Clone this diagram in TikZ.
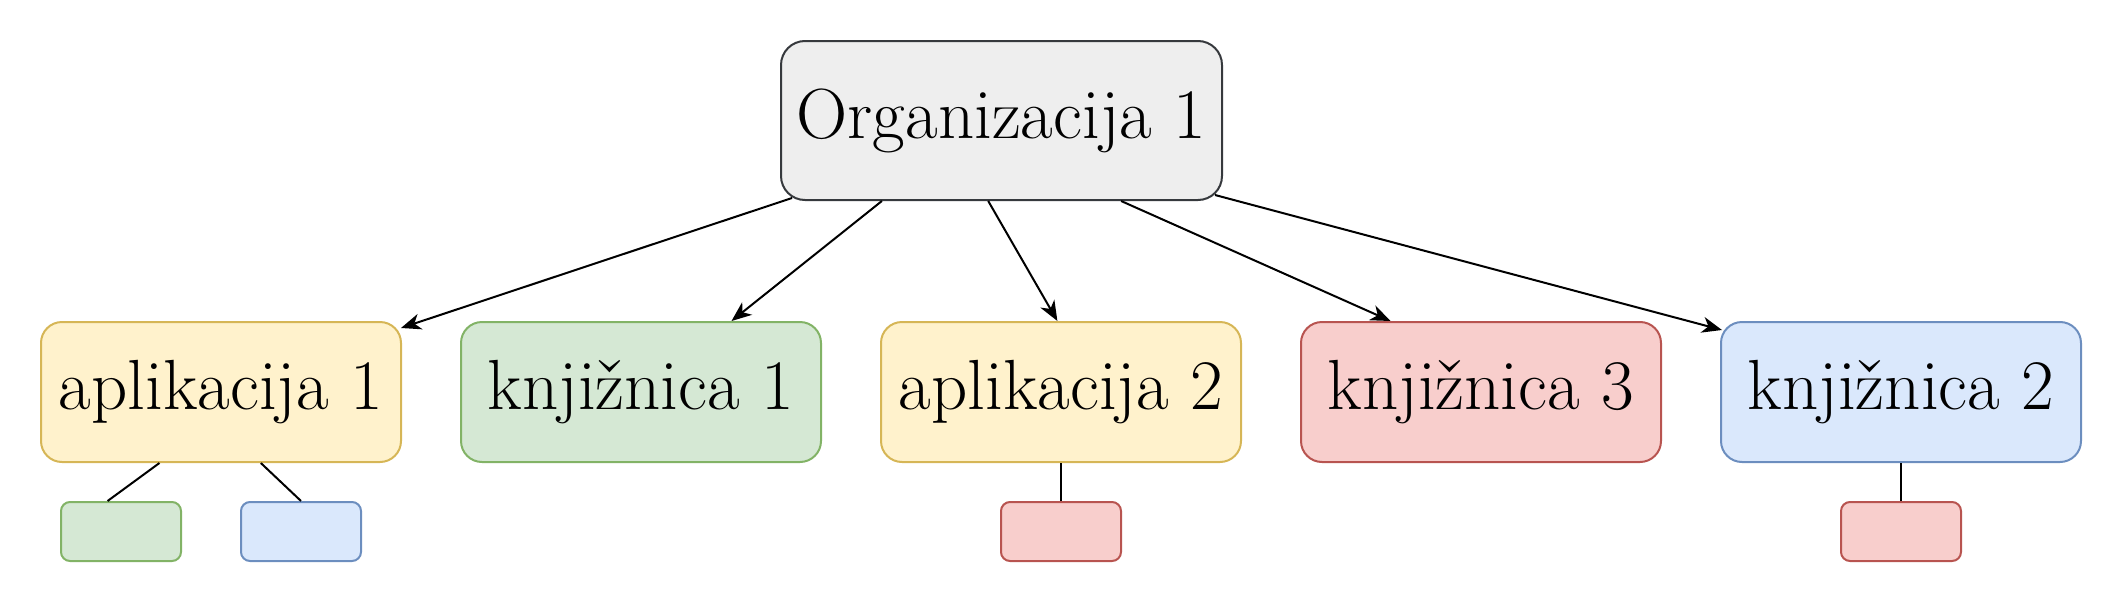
\documentclass[tikz,border=0pt]{standalone}
\usepackage{fontspec}
\usepackage{tikz}
\usetikzlibrary{shapes,arrows.meta,positioning,calc}
\usepackage{xcolor}

\definecolor{grayfill}{HTML}{EEEEEE}
\definecolor{graydraw}{HTML}{36393D}
\definecolor{yellowfill}{HTML}{FFF2CC}
\definecolor{yellowdraw}{HTML}{D6B656}
\definecolor{greenfill}{HTML}{D5E8D4}
\definecolor{greendraw}{HTML}{82B366}
\definecolor{redfill}{HTML}{F8CECC}
\definecolor{reddraw}{HTML}{B85450}
\definecolor{bluefill}{HTML}{DAE8FC}
\definecolor{bluedraw}{HTML}{6C8EBF}

\begin{document}
\begin{tikzpicture}[x=0.5pt, y=0.5pt, node distance=29pt]
    \tikzstyle{box} = [rectangle, draw, line width=1pt, text centered, font=\fontsize{35.5}{42}\selectfont]
    \tikzstyle{org} = [box, fill=grayfill, draw=graydraw, minimum width=220.5pt, minimum height=79.5pt, rounded corners=12pt]
    \tikzstyle{member} = [box, minimum width=180pt, minimum height=70pt, rounded corners=10.5pt]
    \tikzstyle{small} = [box, minimum width=60pt, minimum height=29.5pt, rounded corners=4.5pt]
    \tikzstyle{app} = [fill=yellowfill, draw=yellowdraw]
    \tikzstyle{libgreen} = [fill=greenfill, draw=greendraw]
    \tikzstyle{libred} = [fill=redfill, draw=reddraw]
    \tikzstyle{libblue} = [fill=bluefill, draw=bluedraw]
    \tikzstyle{arr} = [line width=1pt, -{Stealth[length=10pt, width=8pt, inset=3pt]}]
    \tikzstyle{link} = [line width=1pt]

    \useasboundingbox (0,0) rectangle (2122,602);

    \node[org] (organizacija) at (1001.5,481.5) {Organizacija 1};

    % second row
    \node[member, app] (apl1) at (221,210) {aplikacija 1};
    \node[member, libgreen, right=of apl1] (knj1) {knjižnica 1};
    \node[member, app, right=of knj1] (apl2) {aplikacija 2};
    \node[member, libred, right=of apl2] (knj3) {knjižnica 3};
    \node[member, libblue, right=of knj3] (knj2) {knjižnica 2};

    % dependencies
    \node[small, libgreen] (dep1) at (121,70.5) {};
    \node[small, libblue] (dep2) at (301,70.5) {};
    \node[small, libred] (dep3) at (1061,70.5) {};
    \node[small, libred] (dep4) at (1901,70.5) {};

    \draw[arr] ($(organizacija.south west)+(12,3)$) -- ($(apl1.north east)+(-1,-7)$);
    \draw[arr] ($(organizacija.south west)!.23!(organizacija.south east)$) -- ($(knj1.north west)!.75!(knj1.north east)$);
    \draw[arr] ($(organizacija.south west)!.47!(organizacija.south east)$) -- ($(apl2.north west)!.49!(apl2.north east)$);
    \draw[arr] ($(organizacija.south west)!.77!(organizacija.south east)$) -- ($(knj3.north west)!.25!(knj3.north east)$);
    \draw[arr] ($(organizacija.south east)+(-8,6)$) -- ($(knj2.north west)+(2,-9)$);

    \draw[link] ($(apl1.south west)!.33!(apl1.south east)$) -- ($(dep1.north west)!.39!(dep1.north east)$);
    \draw[link] ($(apl1.south west)!.61!(apl1.south east)$) -- (dep2.north);
    \draw[link] (apl2.south) -- (dep3.north);
    \draw[link] (knj2.south) -- (dep4.north);
\end{tikzpicture}
\end{document}
